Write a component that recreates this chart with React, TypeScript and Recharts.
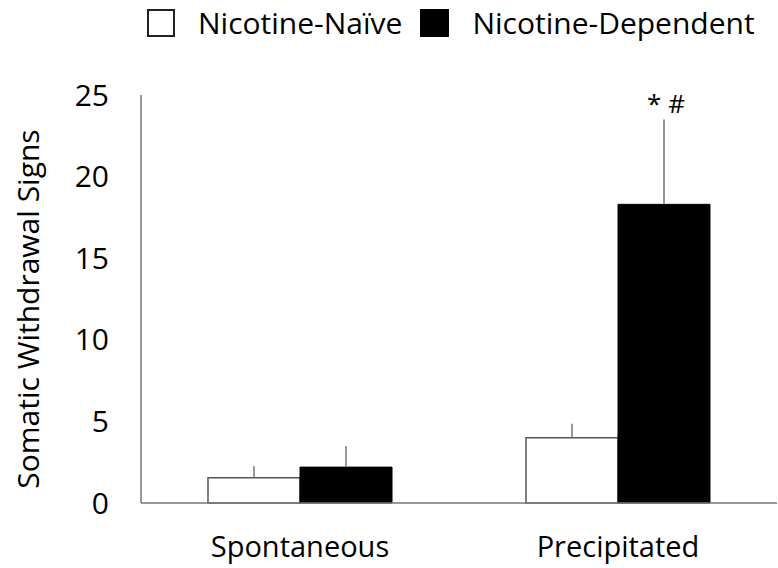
import React from "react";
import { BarChart, Bar, XAxis, YAxis, ErrorBar, LabelList } from "recharts";

const categories = ["Spontaneous", "Precipitated"];
const naiveValues = [1.55, 4.0];
const naiveErrors = [0.7, 0.85];
const dependentValues = [2.2, 18.3];
const dependentErrors = [1.3, 5.2];
const significance = ["", "* #"];
const yTicks = [0, 5, 10, 15, 20, 25];
const seriesNames = ["Nicotine-Naïve", "Nicotine-Dependent"];

const data = categories.map((c, i) => ({
  name: c,
  naive: naiveValues[i],
  naiveErr: [0, naiveErrors[i]],
  dep: dependentValues[i],
  depErr: [0, dependentErrors[i]],
  depErrUp: dependentErrors[i],
  sig: significance[i],
}));

const FONT = "'Open Sans', sans-serif";

const SigLabel = (props: any) => {
  const { x, y, width, height, value, index } = props;
  if (!value) return null;
  const d = data[index];
  const pxPerUnit = height / d.dep;
  const topY = y - d.depErrUp * pxPerUnit;
  return (
    <text x={x + width / 2 + 2} y={topY - 6} textAnchor="middle" fontFamily={FONT} fontSize={26} fill="#000">
      {value}
    </text>
  );
};

const LegendBox = () => (
  <div
    style={{
      position: "absolute",
      left: 147,
      top: 5,
      display: "flex",
      alignItems: "center",
      fontFamily: FONT,
      fontSize: 30,
      color: "#000",
      whiteSpace: "nowrap",
      lineHeight: "36px",
    }}
  >
    <span style={{ display: "inline-block", boxSizing: "border-box", width: 28, height: 28, border: "2px solid #222", background: "#fff", marginRight: 23 }} />
    <span style={{ marginRight: 18 }}>{seriesNames[0]}</span>
    <span style={{ display: "inline-block", width: 29, height: 28, background: "#000", marginRight: 23 }} />
    <span>{seriesNames[1]}</span>
  </div>
);

export default function App() {
  return (
    <div style={{ position: "absolute", left: 0, top: 0, width: 778, height: 568 }}>
      <BarChart width={778} height={568} data={data} margin={{ top: 95, right: 1, bottom: 35, left: 0 }} barGap={0}>
        <XAxis
          dataKey="name"
          height={30}
          axisLine={{ stroke: "#777", strokeWidth: 1.5 }}
          tickLine={false}
          tickSize={0}
          tickMargin={33}
          tick={{ fontFamily: FONT, fontSize: 29, fill: "#000" }}
        />
        <YAxis
          width={141}
          domain={[0, 25]}
          ticks={yTicks}
          interval={0}
          axisLine={{ stroke: "#777", strokeWidth: 1.5 }}
          tickLine={false}
          tickSize={0}
          tickMargin={32}
          tick={{ fontFamily: FONT, fontSize: 30, fill: "#000" }}
          label={{
            value: "Somatic Withdrawal Signs",
            angle: -90,
            position: "insideLeft",
            dx: 23,
            dy: 10,
            style: { fontFamily: FONT, fontSize: 30, fill: "#000", textAnchor: "middle" },
          }}
        />
        <Bar dataKey="naive" fill="#fff" stroke="#555" strokeWidth={1.5} barSize={92} isAnimationActive={false}>
          <ErrorBar dataKey="naiveErr" direction="y" width={0} stroke="#777" strokeWidth={1.5} />
        </Bar>
        <Bar dataKey="dep" fill="#000" stroke="#000" barSize={92} isAnimationActive={false}>
          <ErrorBar dataKey="depErr" direction="y" width={0} stroke="#777" strokeWidth={1.5} />
          <LabelList dataKey="sig" content={<SigLabel />} />
        </Bar>
      </BarChart>
      <LegendBox />
    </div>
  );
}
